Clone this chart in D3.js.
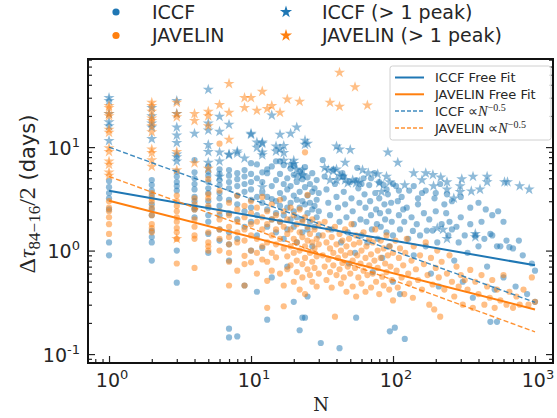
<!DOCTYPE html>
<html lang="en">
<head>
<meta charset="UTF-8">
<title>Lag uncertainty vs N</title>
<script src="https://cdn.jsdelivr.net/npm/d3@7"></script>
<style>
  body { margin: 0; background: #fff; }
  text { font-family: "DejaVu Sans", sans-serif; fill: #262626; }
</style>
</head>
<body>
<script>
// ---- data (N, lag uncertainty in days) ----
// low-N columns: [N, [values...]]
var iccfDotCols = [
  [1, [4.7, 4.1, 3.6, 3.2, 2.5, 1.2, 0.9]],
  [2, [4.8, 4.3, 3.8, 3.4, 2.8, 2.5, 2.2, 1.55, 1.35, 1.2, 0.8]],
  [3, [5.8, 5.2, 4.6, 4.2, 3.8, 1.0, 0.49]],
  [4, [7.5, 5.7, 5.0, 4.4, 3.9, 3.3, 3.0, 2.6, 2.5, 2.1]],
  [5, [6.5, 5.8, 5.3, 4.6, 4.0, 3.6, 3.0, 2.6, 2.2, 1.9, 1.45, 0.95]],
  [6, [6.1, 5.5, 4.8, 4.3, 3.6, 3.2, 2.7, 2.2, 1.6, 1.25]],
  [7, [6.0, 5.3, 4.6, 4.0, 3.1, 2.3, 1.5, 1.15, 0.8, 0.176, 0.145]],
  [8, [5.6, 4.9, 4.2, 3.4, 2.8, 2.0, 1.3, 0.148]],
  [9, [6.0, 5.2, 4.4, 3.7, 2.4, 1.7, 0.46]],
  [10, [7.0, 5.5, 4.6, 3.9, 3.1, 2.6, 1.9, 1.0]]
];
var iccfDots = [
  [11,6.8],[11,5.0],[11,3.3],[11,2.2],[11,1.4],[11,0.4],
  [12,5.7],[12,4.6],[12,3.6],[12,2.9],[12,1.06],
  [13,6.1],[13,5.6],[13,3.3],[13,2.5],[13,1.7],[13,0.215],
  [14,6.5],[14,4.2],[14,3.15],[14,2.0],[14,0.55],
  [15,7.3],[15,4.8],[15,3.0],[15,2.3],[15,1.5],
  [16,7.3],[16,5.5],[16,3.6],[16,2.7],[16,1.9],
  [17,6.7],[17,4.4],[17,3.2],[17,2.2],[17,1.3],
  [18,5.0],[18,3.9],[18,2.6],[18,1.6],[18,0.7],
  [19,6.2],[19,4.2],[19,2.9],[19,2.0],
  [20,6.6],[20,5.4],[20,3.4],[20,2.4],[20,1.7],[20,0.32],
  [21,4.6],[21,3.1],[21,2.1],[21,1.2],
  [22,5.8],[22,3.7],[22,2.6],[22,0.17],
  [23,4.9],[23,3.0],[23,2.0],[23,1.5],[23,0.225],
  [24,6.4],[24,4.1],[24,2.8],[24,0.225],
  [25,5.1],[25,3.4],[25,2.3],[25,1.6],[25,0.36],
  [26,4.4],[26,2.9],[26,1.9],
  [27,5.6],[27,3.7],[27,2.5],[27,1.1],
  [28,4.0],[28,2.7],[28,1.7],
  [29,4.8],[29,3.1],[29,2.1],
  [30,3.6],[30,2.4],[30,1.4],[31,0.128],
  [32,7.5],[33,5.2],[34,3.9],[35,2.9],[36,2.2],[37,1.6],[38,6.1],[39,4.4],[40,3.3],
  [41,2.6],[42,1.9],[42,0.114],[43,1.2],[44,5.6],[45,3.7],[45,5.2],[46,2.8],[47,2.1],
  [48,1.5],[49,0.75],[50,4.6],[51,3.2],[52,2.4],[53,1.8],[54,0.95],[55,0.225],[55,4.8],
  [56,6.3],[57,4.0],[58,2.9],[59,2.0],[60,1.4],[60,4.4],[62,5.0],[63,3.5],[64,2.6],
  [65,1.9],[66,1.2],[68,4.3],[69,3.0],[70,2.2],[70,5.0],[71,1.6],[72,0.62],[74,5.6],
  [75,3.6],[76,2.5],[77,1.8],[78,1.3],[80,3.2],[80,4.6],[81,2.3],[82,1.7],[84,0.85],
  [86,4.3],[87,2.8],[88,2.0],[90,1.5],[90,3.9],[92,3.5],[93,2.4],[94,1.1],[95,0.166],
  [97,2.9],[98,1.9],[100,1.4],[100,0.5],[100,4.4],[103,0.18],
  [105,4.2],[108,3.0],[110,2.2],[110,3.8],[112,1.6],[112,0.38],[115,3.3],[118,2.5],
  [120,1.9],[121,0.14],[125,2.6],[128,1.3],[130,3.8],[135,2.1],[138,1.55],[140,0.9],
  [140,4.2],[147,1.8],[150,2.8],[150,3.2],[155,1.4],[160,3.6],[165,2.3],[170,1.1],
  [170,3.8],[173,1.56],[180,2.0],[185,0.6],[190,1.56],[196,3.2],[200,2.4],[200,3.6],
  [205,1.2],[210,0.45],[215,4.4],[220,1.8],[230,2.8],[237,2.3],[240,3.5],[245,1.4],
  [250,1.9],[260,1.6],[260,3.0],[270,0.8],[280,1.7],[290,1.2],[300,2.1],[300,3.3],
  [310,0.5],[320,1.4],[335,0.95],[350,1.8],[350,2.6],[365,0.35],[380,1.4],[400,1.1],
  [400,2.9],[420,1.9],[440,1.3],[450,2.5],[460,0.7],[485,1.45],[485,0.205],[500,1.4],
  [500,2.2],[520,0.42],[540,1.1],[540,0.205],[550,2.4],[570,1.1],[600,0.55],[600,1.9],
  [630,1.25],[660,1.08],[700,1.05],[730,0.45],[770,1.25],[820,0.9],[880,0.38],
  [950,0.75],[1000,0.64],[1000,0.32]
];

var javDotCols = [
  [1, [3.0, 2.6, 2.4, 2.1, 1.8, 1.45]],
  [2, [3.6, 3.2, 3.0, 2.6, 2.2, 1.8, 1.65, 1.5]],
  [3, [3.4, 3.0, 2.7, 2.4, 2.1, 1.9, 1.65, 1.5, 1.3, 0.75]],
  [4, [3.2, 2.8, 2.5, 2.0, 1.7, 1.4, 1.3, 0.68]],
  [5, [4.9, 3.5, 3.2, 2.7, 1.5, 1.2, 1.1, 1.0]],
  [6, [10.8, 3.8, 2.4, 2.0, 1.6, 1.3, 1.0]],
  [7, [2.9, 2.2, 1.7, 1.35, 1.15, 0.95, 0.78, 0.46]],
  [8, [3.4, 2.5, 1.9, 1.5, 1.2, 0.64]],
  [9, [2.7, 2.1, 1.6, 1.25, 0.89, 0.74, 0.46]],
  [10, [3.0, 2.3, 1.8, 1.4, 1.0, 0.77]]
];
var javDots = [
  [11,2.6],[11,1.9],[11,1.3],[11,0.95],[11,0.6],
  [12,3.3],[12,2.1],[12,1.6],[12,1.1],[12,0.82],
  [13,2.4],[13,1.8],[13,1.2],[13,0.78],[13,0.51],[13,0.28],
  [14,2.8],[14,2.0],[14,1.4],[14,0.95],[14,0.64],
  [15,2.2],[15,1.6],[15,1.15],[15,0.86],
  [16,3.1],[16,1.9],[16,1.3],[16,0.6],
  [17,2.4],[17,1.7],[17,1.05],[17,0.46],[17,0.29],
  [18,2.0],[18,1.45],[18,0.88],[18,0.66],
  [19,2.6],[19,1.6],[19,1.1],[19,0.72],
  [20,2.2],[20,1.3],[20,0.95],[20,0.5],
  [21,1.8],[21,1.2],[21,0.8],[21,0.62],
  [22,2.5],[22,1.5],[22,1.0],[22,0.42],
  [23,1.9],[23,1.35],[23,0.74],[23,0.55],
  [24,8.9],[24,2.1],[24,1.1],[24,0.85],[24,0.38],
  [25,3.45],[25,1.7],[25,1.25],[25,0.66],
  [26,1.45],[26,0.95],[26,0.58],
  [27,2.0],[27,1.2],[27,0.78],[27,0.5],
  [28,1.6],[28,1.05],[28,0.68],
  [29,1.3],[29,0.88],[29,0.45],
  [30,1.8],[30,1.15],[30,0.6],
  [32,1.4],[32,0.9],[33,1.9],[33,0.7],[34,1.2],[34,0.52],[35,1.6],[35,0.82],[36,1.05],
  [36,0.62],[37,1.35],[37,0.44],[38,0.95],[38,0.72],[39,1.7],[39,0.23],[40,1.15],
  [40,0.58],[41,0.85],[42,1.45],[42,0.66],[43,1.0],[43,0.48],[44,1.25],[44,0.76],
  [45,0.55],[46,1.6],[46,0.9],[47,1.1],[47,0.4],[48,0.7],[49,1.3],[50,0.95],[50,0.6],
  [51,1.8],[52,0.8],[52,0.45],[53,1.15],[54,0.68],[55,1.4],[55,0.36],[56,0.9],[57,0.55],
  [58,1.2],[59,0.75],[60,1.0],[60,0.48],[62,1.5],[62,0.64],[64,0.85],[64,0.4],[65,1.1],
  [66,0.58],[68,1.3],[68,0.72],[70,0.92],[70,0.44],[72,1.2],[72,0.6],[74,0.8],[75,1.6],
  [76,0.5],[78,1.0],[78,0.68],[80,0.38],[82,1.25],[82,0.85],[84,0.56],[86,1.05],
  [86,0.46],[88,0.75],[90,1.4],[90,0.62],[92,0.9],[94,0.42],[95,1.1],[96,0.7],[98,0.52],
  [100,0.95],[100,0.33],
  [104,1.25],[106,0.64],[108,0.44],[110,0.85],[112,1.05],[115,0.55],[118,0.72],
  [120,0.38],[122,0.95],[125,1.3],[128,0.6],[130,0.48],[135,0.8],[138,0.35],[140,1.1],
  [145,0.66],[150,0.52],[155,0.9],[160,0.42],[165,0.74],[170,1.2],[175,0.58],[180,0.3],
  [185,0.85],[190,0.47],[195,0.27],[200,0.68],[205,1.0],[210,0.55],[215,0.23],[220,0.78],
  [230,0.42],[240,0.6],[250,0.9],[260,0.5],[270,0.36],[280,0.7],[290,0.45],[300,0.58],
  [310,0.3],[320,0.52],[335,0.42],[350,0.65],[365,0.28],[380,0.5],[400,0.38],[420,0.58],
  [440,0.3],[460,0.45],[480,0.35],[500,0.52],[520,0.28],[540,0.42],[570,0.33],[600,0.58],
  [630,0.3],[660,0.4],[700,0.28],[740,0.36],[780,0.3],[830,0.42],[900,0.3],[950,0.55],
  [1000,0.32]
];

// more than one peak
var iccfStars = [
  [1,30],[1,28],[1,21],[1,17.5],[1,16],[1,11.5],
  [2,24],[2,20],[2,17],[2,15.5],[2,12],
  [3,28],[3,21],[3,15.5],[3,13],[3,11],[3,8.5],[3,8.0],[3,7.3],
  [4,13.5],[5,36],[5,17],[5,14.5],[5,10.5],[5,9.0],[5,7.1],
  [6,19.7],[6,14.1],[6,8.9],[6,7.3],[6,5.2],[7,16.5],[7,8.5],[7,8.4],
  [8,9.1],[8,8.7],[9,7.8],[10,13.5],[10,13.2],[11,11.1],[11,9.9],
  [12,11.1],[12,10.8],[12,8.9],[12,8.4],[12,4.1],[14,20.3],[15,10.2],[15,9.1],
  [16,13.2],[16,9.6],[17,10.3],[17,8.8],[17,7.4],[19,13.5],[19,6.8],[20,7.4],[20,6.9],
  [21,15.5],[21,6.1],[21,5.2],[23,6.0],[23,5.4],[23,5.3],[24,11.6],[24,10.6],[25,10.8],
  [33,6.3],[35,6.0],[36,4.8],[38,5.9],[40,6.1],[40,4.8],[40,10.2],[42,5.3],[42,9.5],
  [44,5.2],[46,7.1],[46,4.8],[48,4.5],[50,9.4],[52,4.8],[55,4.5],[58,4.6],[61,6.0],
  [67,5.6],[78,5.5],[80,4.5],[83,3.7],[90,5.2],[95,4.6],[92,8.9],[108,7.1],[121,4.3],
  [140,5.6],[160,4.8],[170,5.6],[191,5.4],[193,4.2],[205,1.65],[217,5.1],[225,1.6],
  [240,4.6],[240,3.9],[240,1.3],[268,3.2],[297,4.2],[297,3.7],[305,4.9],[356,3.75],
  [366,5.2],[380,1.45],[380,1.35],[410,3.9],[460,5.2],[460,4.6],[610,4.6],[640,4.6],
  [780,4.2],[910,3.9]
];
var javStars = [
  [1,25],[1,24],[1,21],[1,20],[1,14.8],[1,13.8],[1,9.8],[1,9.0],[1,7.3],[1,6.8],[1,5.7],[1,5.3],
  [2,27],[2,25],[2,22],[2,19],[2,18],[2,16],[2,14],[2,9.5],[2,8.8],[2,7.5],[2,6.5],
  [3,27],[3,21],[3,19.5],[3,9.0],[3,6.0],[3,1.3],
  [4,21],[4,18],[4,7.0],[5,22],[5,20],[5,16],[5,6.2],[6,25.6],[7,41],[7,21.6],[7,11.8],
  [9,30],[9,24],[10,30],[11,22.5],[12,34.5],[13,23.5],[14,25],[16,21.6],[18,29],
  [22,27.6],[36,27],[42,52.5],[42,24.6],[54,38],[66,25.4]
];

// fit lines, evaluated at the ends of the N range
var fitN = [1, 1000];
var iccfFree = [3.78, 0.72];
var javFree = [3.03, 0.27];
var iccfHalf = [10.0, 0.316];
var javHalf = [5.2, 0.164];

var blue = '#1f77b4', orange = '#ff7f0e';

function expand(cols) {
  return cols.flatMap(function(c) { return c[1].map(function(v) { return [c[0], v]; }); });
}

var width = 557, height = 418;
var padL = 88, padR = 553, padT = 59, padB = 363;

var x = d3.scaleLog().domain([0.711, 1339]).range([padL, padR]);
var y = d3.scaleLog().domain([0.082, 71]).range([padB, padT]);

var svg = d3.select('body').append('svg')
  .attr('width', width).attr('height', height);

svg.append('clipPath').attr('id', 'clip')
  .append('rect').attr('x', padL).attr('y', padT)
  .attr('width', padR - padL).attr('height', padB - padT);

var plot = svg.append('g').attr('clip-path', 'url(#clip)');

function dots(data, color) {
  plot.append('g').selectAll('circle')
    .data(data).enter().append('circle')
    .attr('cx', function(d) { return x(d[0]); })
    .attr('cy', function(d) { return y(d[1]); })
    .attr('r', 3.1)
    .attr('fill', color).attr('fill-opacity', 0.5);
}
var star = d3.symbol().type(d3.symbolStar).size(38);
function stars(data, color) {
  plot.append('g').selectAll('path')
    .data(data).enter().append('path')
    .attr('d', star)
    .attr('transform', function(d) { return 'translate(' + x(d[0]) + ',' + y(d[1]) + ')'; })
    .attr('fill', color).attr('fill-opacity', 0.5);
}

dots(expand(iccfDotCols).concat(iccfDots), blue);
dots(expand(javDotCols).concat(javDots), orange);
stars(iccfStars, blue);
stars(javStars, orange);

var line = d3.line()
  .x(function(d) { return x(d[0]); })
  .y(function(d) { return y(d[1]); });
function fit(vals, color, dashed) {
  plot.append('path')
    .datum(fitN.map(function(n, i) { return [n, vals[i]]; }))
    .attr('d', line)
    .attr('fill', 'none')
    .attr('stroke', color)
    .attr('stroke-width', dashed ? 1.4 : 2)
    .attr('stroke-opacity', dashed ? 0.85 : 1)
    .attr('stroke-dasharray', dashed ? '5,2.5' : null);
}
fit(iccfFree, blue, false);
fit(javFree, orange, false);
fit(iccfHalf, blue, true);
fit(javHalf, orange, true);

// ---- axes ----
function isMajor(v) { return Math.abs(Math.log10(v) - Math.round(Math.log10(v))) < 1e-6; }
var xt = x.ticks(), yt = y.ticks();
var xMaj = xt.filter(isMajor), xMin = xt.filter(function(v) { return !isMajor(v); });
var yMaj = yt.filter(isMajor), yMin = yt.filter(function(v) { return !isMajor(v); });

function ticks(axis, vals, len, tr) {
  var g = svg.append('g').attr('transform', tr)
    .call(axis.tickValues(vals).tickSize(-len).tickFormat(''));
  g.select('.domain').remove();
  g.selectAll('line').attr('stroke', '#222').attr('stroke-width', 1.2);
}
ticks(d3.axisBottom(x), xMin, 4, 'translate(0,' + padB + ')');
ticks(d3.axisBottom(x), xMaj, 7, 'translate(0,' + padB + ')');
ticks(d3.axisLeft(y), yMin, 4, 'translate(' + padL + ',0)');
ticks(d3.axisLeft(y), yMaj, 7, 'translate(' + padL + ',0)');
ticks(d3.axisRight(y), yMin, 4, 'translate(' + padR + ',0)');
ticks(d3.axisRight(y), yMaj, 7, 'translate(' + padR + ',0)');

svg.append('rect')
  .attr('x', padL).attr('y', padT)
  .attr('width', padR - padL).attr('height', padB - padT)
  .attr('fill', 'none').attr('stroke', '#111').attr('stroke-width', 2);

function powLabel(sel, v) {
  var e = Math.round(Math.log10(v));
  sel.append('tspan').text('10');
  sel.append('tspan').attr('dy', -8).style('font-size', '13px').text(e < 0 ? '-' + (-e) : String(e));
}
xMaj.forEach(function(v) {
  var t = svg.append('text').attr('x', x(v) + 3).attr('y', 387)
    .attr('text-anchor', 'middle').style('font-size', '19px');
  powLabel(t, v);
});
yMaj.forEach(function(v) {
  var t = svg.append('text').attr('x', 80).attr('y', y(v) + 7.5)
    .attr('text-anchor', 'end').style('font-size', '19px');
  powLabel(t, v);
});

svg.append('text').attr('x', 321).attr('y', 411)
  .attr('text-anchor', 'middle')
  .style('font-family', '"DejaVu Serif", serif').style('font-size', '18px')
  .text('N');

var yl = svg.append('text')
  .attr('transform', 'translate(35,194) rotate(-90)')
  .attr('text-anchor', 'middle').style('font-size', '21px');
var serif = '"Liberation Serif", serif';
yl.append('tspan').style('font-family', serif).style('font-size', '24px').text('Δ');
yl.append('tspan').style('font-family', serif).style('font-style', 'italic').style('font-size', '24px').text('τ');
yl.append('tspan').attr('dy', 5).style('font-family', serif).style('font-size', '17px').text('84−16');
yl.append('tspan').attr('dy', -5).style('font-family', serif).style('font-size', '24px').text('/2');
yl.append('tspan').text(' (days)');

// ---- legend above the axes ----
var topItems = [
  { label: 'ICCF', color: blue, shape: 'dot', x: 116, y: 12 },
  { label: 'JAVELIN', color: orange, shape: 'dot', x: 116, y: 35.5 },
  { label: 'ICCF (> 1 peak)', color: blue, shape: 'star', x: 286, y: 12 },
  { label: 'JAVELIN (> 1 peak)', color: orange, shape: 'star', x: 286, y: 35.5 }
];
topItems.forEach(function(it) {
  if (it.shape === 'dot') {
    svg.append('circle').attr('cx', it.x).attr('cy', it.y).attr('r', 3.6).attr('fill', it.color);
  } else {
    svg.append('path').attr('d', d3.symbol().type(d3.symbolStar).size(46))
      .attr('transform', 'translate(' + it.x + ',' + it.y + ')').attr('fill', it.color);
  }
  svg.append('text').attr('x', it.x + 36).attr('y', it.y + 6.8)
    .style('font-size', '19px').text(it.label);
});

// ---- legend inside the axes ----
var lg = svg.append('g');
lg.append('rect').attr('x', 390).attr('y', 66).attr('width', 161).attr('height', 74)
  .attr('rx', 2.5).attr('fill', '#fff').attr('fill-opacity', 0.85)
  .attr('stroke', '#d0d0d0').attr('stroke-width', 1);
var lineItems = [
  { label: 'ICCF Free Fit', color: blue, dashed: false },
  { label: 'JAVELIN Free Fit', color: orange, dashed: false },
  { label: 'ICCF', color: blue, dashed: true },
  { label: 'JAVELIN', color: orange, dashed: true }
];
var rowY = [77.5, 94.3, 111, 128];
lineItems.forEach(function(it, i) {
  lg.append('line').attr('x1', 395).attr('x2', 424).attr('y1', rowY[i]).attr('y2', rowY[i])
    .attr('stroke', it.color).attr('stroke-width', it.dashed ? 1.4 : 2)
    .attr('stroke-opacity', it.dashed ? 0.85 : 1)
    .attr('stroke-dasharray', it.dashed ? '4,2' : null);
  var t = lg.append('text').attr('x', 435).attr('y', rowY[i] + 4.8).style('font-size', '13px');
  t.append('tspan').text(it.label);
  if (it.dashed) {
    t.append('tspan').style('font-family', serif).style('font-size', '14px').text(' ∝');
    t.append('tspan').style('font-family', serif).style('font-style', 'italic').style('font-size', '14.5px').text('N');
    t.append('tspan').attr('dy', -5).style('font-family', serif).style('font-size', '10px').text('−0.5');
  }
});
</script>
</body>
</html>
